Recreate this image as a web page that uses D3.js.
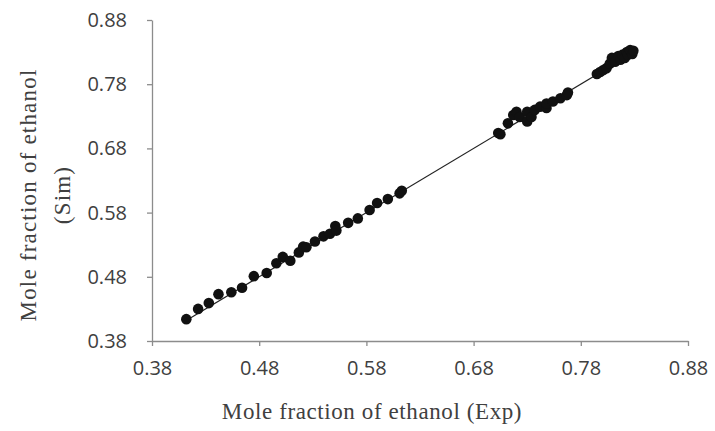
<!DOCTYPE html>
<html>
<head>
<meta charset="utf-8">
<script src="https://cdn.jsdelivr.net/npm/d3@7"></script>
<style>
html,body{margin:0;padding:0;background:#fff;}
svg{display:block;}
</style>
</head>
<body>
<svg id="chart" width="715" height="431"></svg>
<script>
const expValues = [0.412,0.423,0.433,0.442,0.454,0.464,0.475,0.487,0.496,0.502,0.509,0.517,0.521,
  0.524,0.532,0.540,0.546,0.551,0.552,0.563,0.572,0.583,0.590,0.600,0.611,0.613,
  0.703,0.705,0.712,0.717,0.720,0.723,0.730,0.730,0.734,0.737,0.742,0.748,0.748,0.754,0.761,0.767,0.768,
  0.795,0.798,0.801,0.804,0.807,0.809,0.812,0.815,0.817,0.819,0.821,0.823,0.824,0.826,0.828,0.829];
const simValues = [0.414,0.430,0.439,0.453,0.456,0.463,0.481,0.486,0.501,0.511,0.505,0.518,0.527,
  0.526,0.535,0.543,0.547,0.559,0.552,0.564,0.571,0.584,0.595,0.601,0.610,0.614,
  0.704,0.702,0.719,0.732,0.737,0.729,0.722,0.737,0.729,0.740,0.745,0.743,0.750,0.753,0.758,0.763,0.767,
  0.796,0.799,0.802,0.805,0.812,0.821,0.815,0.824,0.818,0.826,0.821,0.830,0.826,0.833,0.827,0.832];
const fitLine = [0.410, 0.832];
const tickValues = [0.38,0.48,0.58,0.68,0.78,0.88];
const xTitle = "Mole fraction of ethanol (Exp)";
const yTitleLines = ["Mole fraction of ethanol", "(Sim)"];

const svg = d3.select("#chart");
const mLeft = 152, mRight = 688, mTop = 20, mBottom = 341;
const x = d3.scaleLinear().domain([0.38, 0.88]).range([mLeft, mRight]);
const y = d3.scaleLinear().domain([0.38, 0.88]).range([mBottom, mTop]);
const axisColor = "#8c8c8c";
const textColor = "#404040";

const xAxis = svg.append("g").attr("transform", `translate(0,${mBottom})`)
  .call(d3.axisBottom(x).tickValues(tickValues).tickFormat(d3.format(".2f")).tickSizeInner(5).tickSizeOuter(0).tickPadding(12));
const yAxis = svg.append("g").attr("transform", `translate(${mLeft},0)`)
  .call(d3.axisLeft(y).tickValues(tickValues).tickFormat(d3.format(".2f")).tickSizeInner(5).tickSizeOuter(0).tickPadding(20));
[xAxis, yAxis].forEach(g => {
  g.select(".domain").attr("stroke", axisColor).attr("stroke-width", 1.3);
  g.selectAll(".tick line").attr("stroke", axisColor).attr("stroke-width", 1.3);
  g.selectAll(".tick text").attr("fill", textColor)
    .style("font-family", "'Open Sans', 'Liberation Sans', sans-serif").style("font-size", "20px");
});
xAxis.selectAll(".tick text").attr("dy", "0.85em");

const pts = expValues.map((v, i) => [v, simValues[i]]);

svg.append("line")
  .attr("x1", x(fitLine[0])).attr("y1", y(fitLine[0]))
  .attr("x2", x(fitLine[1])).attr("y2", y(fitLine[1]))
  .attr("stroke", "#222").attr("stroke-width", 1.2);

svg.append("g").selectAll("circle").data(pts).join("circle")
  .attr("cx", d => x(d[0])).attr("cy", d => y(d[1])).attr("r", 5.3)
  .attr("fill", "#111");

svg.append("text")
  .attr("x", 372).attr("y", 419)
  .attr("text-anchor", "middle")
  .attr("fill", textColor)
  .style("font-family", "'Liberation Serif', 'DejaVu Serif', serif").style("font-size", "23px")
  .style("letter-spacing", "0.6px")
  .text(xTitle);

const yt = svg.append("text")
  .attr("transform", "translate(36,195) rotate(-90)")
  .attr("text-anchor", "middle")
  .attr("fill", textColor)
  .style("font-family", "'Liberation Serif', 'DejaVu Serif', serif").style("font-size", "23px")
  .style("letter-spacing", "1.2px");
yt.append("tspan").attr("x", 0).attr("y", 0).text(yTitleLines[0]);
yt.append("tspan").attr("x", 0).attr("y", 34).text(yTitleLines[1]);
</script>
</body>
</html>
